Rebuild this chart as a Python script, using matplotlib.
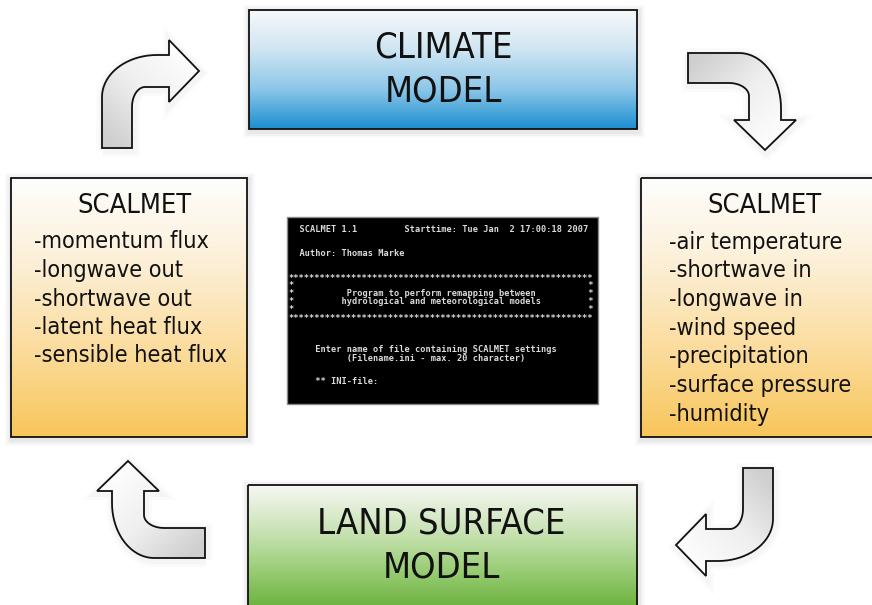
import numpy as np
import matplotlib.pyplot as plt
from matplotlib.colors import LinearSegmentedColormap
from matplotlib.patches import Rectangle, PathPatch
from matplotlib.path import Path

# Box contents
climate_title = ["CLIMATE", "MODEL"]
land_title = ["LAND SURFACE", "MODEL"]
scalmet_title = "SCALMET"
outputs_left = ["-momentum flux", "-longwave out", "-shortwave out",
                "-latent heat flux", "-sensible heat flux"]
inputs_right = ["-air temperature", "-shortwave in", "-longwave in", "-wind speed",
                "-precipitation", "-surface pressure", "-humidity"]

# Console screenshot in the middle (one entry per console row)
stars = "*" * 58
blank = "*" + " " * 56 + "*"
console_rows = [
    "  SCALMET 1.1" + " " * 9 + "Starttime: Tue Jan  2 17:00:18 2007",
    "", "",
    "  Author: Thomas Marke",
    "", "",
    stars,
    blank,
    "*" + "Program to perform remapping between".center(56) + "*",
    "*" + "hydrological and meteorological models".center(56) + "*",
    blank,
    stars,
    "", "", "",
    "     Enter name of file containing SCALMET settings",
    "           (Filename.ini - max. 20 character)",
    "", "",
    "     ** INI-file:",
]

font = dict(family="DejaVu Sans", stretch="condensed", color="#111111")

fig = plt.figure(figsize=(8.72, 6.05), dpi=100)
ax = fig.add_axes([0, 0, 1, 1])
ax.set_xlim(0, 872)
ax.set_ylim(605, 0)
ax.axis("off")


def gradient_box(x0, y0, x1, y1, colors):
    # soft shadow
    for k, a in [(7, 0.02), (5, 0.03), (3, 0.04)]:
        ax.add_patch(Rectangle((x0 - k + 1, y0 - k + 2), x1 - x0 + 2 * k, y1 - y0 + 2 * k,
                               facecolor="k", edgecolor="none", alpha=a, zorder=1))
    cmap = LinearSegmentedColormap.from_list("g", colors)
    grad = np.linspace(0, 1, 256).reshape(-1, 1)
    ax.imshow(grad, cmap=cmap, extent=(x0, x1, y1, y0), aspect="auto",
              interpolation="bilinear", zorder=2)
    ax.add_patch(Rectangle((x0, y0), x1 - x0, y1 - y0, facecolor="none",
                           edgecolor="#111111", lw=1.3, zorder=3))


# bent arrow in local coords: u across the shaft, v along the start direction
def arrow_outline():
    t1 = np.linspace(np.pi, np.pi / 2, 12)
    t2 = np.linspace(np.pi / 2, np.pi, 20)
    pts = [(0, 0), (30, 0), (30, 41)]
    pts += list(zip(43 + 13 * np.cos(t1), 41 + 20 * np.sin(t1)))
    pts += [(67, 61), (67, 46), (97, 77), (67, 108), (67, 93)]
    pts += list(zip(55 + 55 * np.cos(t2), 51 + 42 * np.sin(t2)))
    return np.array(pts, dtype=float)


def draw_arrow(to_screen):
    local = arrow_outline()
    xy = np.array([to_screen(u, v) for u, v in local])
    path = Path(np.vstack([xy, xy[:1]]), closed=True)
    sh = Path(path.vertices + [1, 2])
    for lw, a in [(10, 0.015), (6, 0.025)]:
        ax.add_patch(PathPatch(sh, facecolor="none", edgecolor="k", lw=lw, alpha=a, zorder=1))
    patch = PathPatch(path, facecolor="none", edgecolor="#111111", lw=1.3, zorder=3)
    ax.add_patch(patch)
    # gradient from tail (grey) to head (white)
    tx, ty = to_screen(15, 0)
    hx, hy = to_screen(97, 77)
    x0, x1 = xy[:, 0].min(), xy[:, 0].max()
    y0, y1 = xy[:, 1].min(), xy[:, 1].max()
    X, Y = np.meshgrid(np.linspace(x0, x1, 120), np.linspace(y0, y1, 120))
    d = np.array([hx - tx, hy - ty])
    t = ((X - tx) * d[0] + (Y - ty) * d[1]) / (d @ d)
    cmap = LinearSegmentedColormap.from_list("a", ["#cfcfcf", "#efefef", "#fdfdfd"])
    im = ax.imshow(np.clip(t, 0, 1), cmap=cmap, vmin=0, vmax=1, extent=(x0, x1, y1, y0),
                   aspect="auto", interpolation="bilinear", zorder=2)
    im.set_clip_path(patch)


# boxes
gradient_box(249, 10, 637, 129, ["#f7f9fa", "#cfe5f2", "#8cc6e8", "#1a8fd0"])
gradient_box(248, 485, 637, 615, ["#f6f7f3", "#cce4b9", "#98cc74", "#62ac33"])
orange = ["#fefefd", "#fcefd6", "#fbdc9c", "#f8c55a"]
gradient_box(11, 178, 247, 437, orange)
gradient_box(641, 178, 890, 437, orange)

# arrows (all the same shape, rotated)
draw_arrow(lambda u, v: (102 + u, 148 - v))
draw_arrow(lambda u, v: (688 + v, 53 + u))
draw_arrow(lambda u, v: (773 - u, 468 + v))
draw_arrow(lambda u, v: (205 - v, 558 - u))

# texts in the boxes
for i, s in enumerate(climate_title):
    ax.text(443, 48 + 43 * i, s, fontsize=26, ha="center", va="center", zorder=4, **font)
for i, s in enumerate(land_title):
    ax.text(441, 523 + 45 * i, s, fontsize=26, ha="center", va="center", zorder=4, **font)

ax.text(134, 206, scalmet_title, fontsize=19.5, ha="center", va="center", zorder=4, **font)
for i, s in enumerate(outputs_left):
    ax.text(34, 242 + 28.5 * i, s, fontsize=16.8, ha="left", va="center", zorder=4, **font)

ax.text(764, 206, scalmet_title, fontsize=19.5, ha="center", va="center", zorder=4, **font)
for i, s in enumerate(inputs_right):
    ax.text(669, 242 + 28.7 * i, s, fontsize=16.8, ha="left", va="center", zorder=4, **font)

# console window
ax.add_patch(Rectangle((287, 217), 311, 187, facecolor="black", edgecolor="#8a8a8a",
                       lw=1, zorder=2))
for i, row in enumerate(console_rows):
    if row:
        ax.text(288.5, 230 + 8 * i, row, family="DejaVu Sans Mono", fontsize=6.2,
                weight="bold", color="#dadada", ha="left", va="center", zorder=4)

fig.savefig("out.png", dpi=100)
